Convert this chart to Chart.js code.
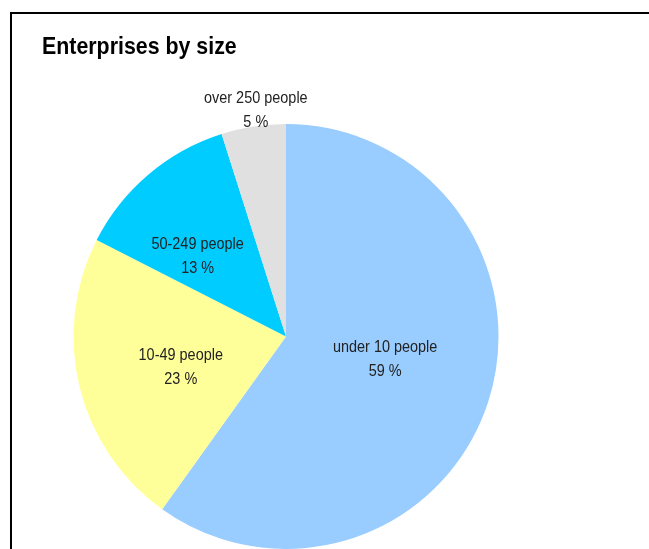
<!DOCTYPE html>
<html>
<head>
<meta charset="utf-8">
<script src="https://cdn.jsdelivr.net/npm/chart.js@4/dist/chart.umd.min.js"></script>
<style>
    html, body { margin: 0; padding: 0; background: #fff; overflow: hidden; }
    #wrap { position: relative; width: 649px; height: 549px; }
    #frame {
        position: absolute; left: 10px; top: 12px; width: 700px; height: 600px;
        border-left: 2px solid #000; border-top: 2px solid #000;
    }
    canvas { position: absolute; left: 0; top: 0; }
</style>
</head>
<body>
<div id="wrap">
    <div id="frame"></div>
    <canvas id="pie" width="649" height="549"></canvas>
</div>
<script>
// Data
const chartTitle = 'Enterprises by size';
const categories = ['under 10 people', '10-49 people', '50-249 people', 'over 250 people'];
const shares = [59.9, 22.6, 12.6, 4.9];        // slice sizes
const shareLabels = ['59 %', '23 %', '13 %', '5 %'];  // printed on the slices
const sliceColors = ['#99CCFF', '#FFFF99', '#00CCFF', '#E0E0E0'];

// narrow Arial look: Liberation Sans squeezed horizontally
function narrowText(ctx, text, x, y, squeeze) {
    ctx.save();
    ctx.translate(x, y);
    ctx.scale(squeeze, 1);
    ctx.fillText(text, 0, 0);
    ctx.restore();
}

// Title + "name / NN %" on each slice, small ones outside
const sliceLabels = {
    id: 'sliceLabels',
    afterDatasetsDraw(chart) {
        const ctx = chart.ctx;
        const meta = chart.getDatasetMeta(0);
        ctx.save();

        ctx.font = 'bold 24px "Liberation Sans", Arial, sans-serif';
        ctx.fillStyle = '#000';
        ctx.textAlign = 'left';
        ctx.textBaseline = 'alphabetic';
        narrowText(ctx, chartTitle, 42, 54, 0.89);

        ctx.font = '17px "Liberation Sans", Arial, sans-serif';
        ctx.fillStyle = '#222';
        ctx.textAlign = 'center';
        ctx.textBaseline = 'middle';
        const factors = [0.49, 0.5, 0.57, 1.08];
        const nudge = [[0, -9], [-2, 6], [-10, 12], [5, 1]];
        meta.data.forEach((arc, i) => {
            const p = arc.getProps(['x', 'y', 'startAngle', 'endAngle', 'outerRadius'], true);
            const mid = (p.startAngle + p.endAngle) / 2;
            const x = p.x + Math.cos(mid) * p.outerRadius * factors[i] + nudge[i][0];
            const y = p.y + Math.sin(mid) * p.outerRadius * factors[i] + nudge[i][1];
            narrowText(ctx, categories[i], x, y - 12, 0.85);
            narrowText(ctx, shareLabels[i], x, y + 12, 0.85);
        });
        ctx.restore();
    }
};

const chart = new Chart(document.getElementById('pie').getContext('2d'), {
    type: 'pie',
    data: {
        labels: categories,
        datasets: [{
            data: shares,
            backgroundColor: sliceColors,
            borderWidth: 0
        }]
    },
    options: {
        responsive: false,
        animation: false,
        layout: { padding: { left: 73.5, right: 150.5, top: 124, bottom: 0 } },
        plugins: {
            legend: { display: false },
            tooltip: { enabled: false }
        }
    },
    plugins: [sliceLabels]
});
</script>
</body>
</html>
